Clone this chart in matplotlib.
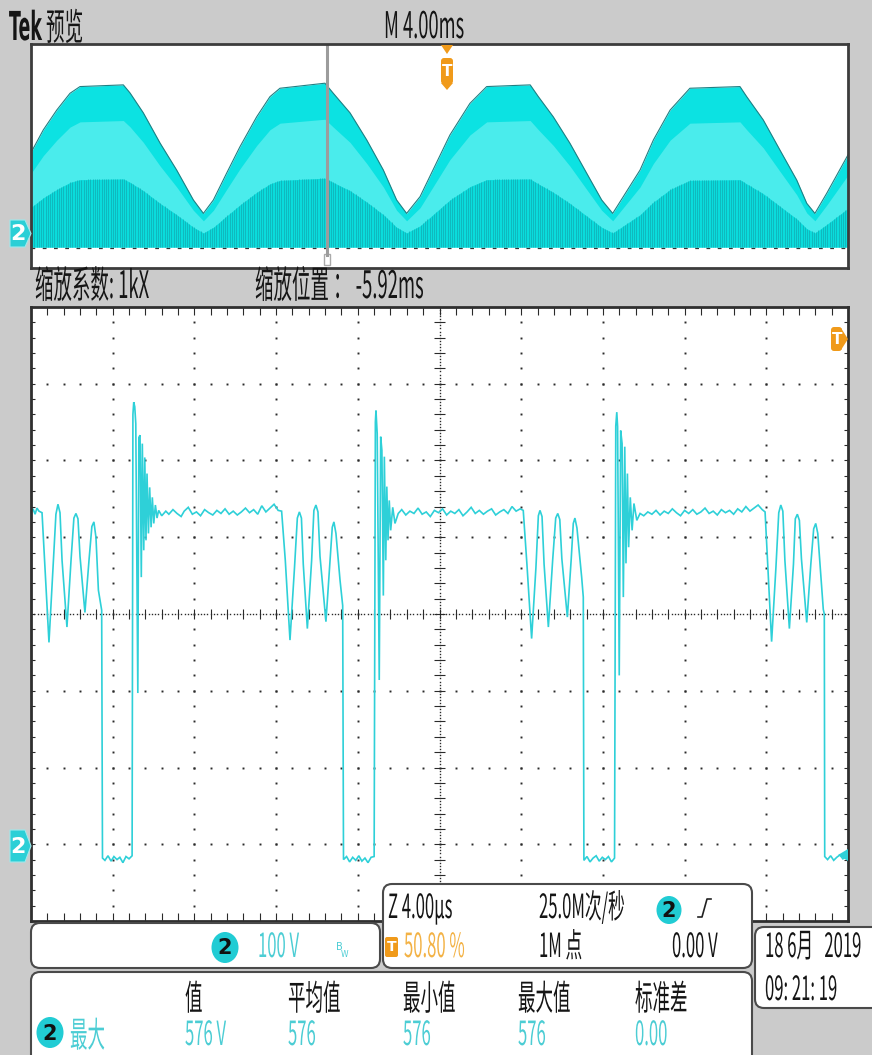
import numpy as np
import matplotlib
matplotlib.use("Agg")
import matplotlib.pyplot as plt
from matplotlib.patches import FancyBboxPatch, Polygon, Ellipse, Rectangle
from matplotlib.patheffects import AbstractPathEffect
from matplotlib.transforms import Affine2D

# ---------------- data ----------------
# overview (top panel): envelope of channel 2, time in ms, volts
env_t = [0.0, 0.60, 1.26, 1.91, 2.40, 4.52, 4.85, 5.50, 6.32, 7.13, 7.95, 8.44, 8.93, 9.58,
         10.23, 11.05, 11.70, 12.19, 14.39, 14.80, 15.62, 16.44, 17.25, 17.90, 18.39, 19.05,
         20.51, 21.49, 22.31, 24.44, 24.84, 25.57, 26.39, 27.21, 27.94, 28.48, 29.00, 29.82,
         30.47, 31.29, 32.26, 34.71, 35.04, 35.85, 36.67, 37.49, 37.98, 38.38, 38.96, 40.0]
env_v = [312, 393, 464, 524, 548, 554, 525, 454, 346, 250, 143, 95, 143, 239,
         333, 440, 512, 542, 560, 524, 454, 357, 250, 143, 95, 155,
         375, 488, 548, 554, 512, 440, 345, 238, 143, 95, 155, 250,
         357, 464, 542, 548, 512, 429, 321, 214, 131, 95, 167, 304]

# zoomed trace (main panel): time in microseconds, volts
osc0_t = [0.00, 0.10, 0.20, 0.29, 0.39, 0.54, 0.69, 0.88, 1.08, 1.22, 1.32, 1.42, 1.52, 1.76,
          1.96, 2.10, 2.20, 2.30, 2.40, 2.64, 2.84, 2.98, 3.08, 3.18, 3.30, 3.46]
osc0_v = [433, 437, 430, 438, 434, 432, 357, 263, 360, 430, 443, 432, 370, 283,
          370, 425, 431, 424, 375, 302, 370, 414, 420, 400, 331, 305]
low0_t = [3.50, 3.62, 3.77, 3.92, 4.06, 4.21, 4.35, 4.50, 4.65, 4.80, 4.95]
low0_v = [-18, -21, -15, -22, -16, -20, -17, -24, -16, -19, -15]
spk1_t = [4.99, 5.03, 5.08, 5.13, 5.23, 5.28, 5.34, 5.40, 5.45, 5.52, 5.57, 5.63, 5.68, 5.75,
          5.81, 5.88, 5.94, 6.01, 6.09, 6.17, 6.25]
spk1_v = [560, 576, 570, 548, 197, 530, 533, 348, 522, 383, 504, 396, 483, 405,
          465, 413, 452, 418, 442, 425, 435]
flat1_t = [6.40, 6.60, 6.75, 6.95, 7.15, 7.35, 7.50, 7.70, 7.90, 8.10, 8.30, 8.50, 8.70, 8.90,
           9.10, 9.30, 9.50, 9.70, 9.90, 10.10, 10.30, 10.50, 10.70, 10.90, 11.10, 11.30,
           11.50, 11.70, 11.90, 12.10, 12.27]
flat1_v = [428, 434, 430, 436, 431, 427, 434, 439, 430, 433, 428, 436, 432, 429,
           435, 431, 437, 430, 434, 429, 433, 438, 432, 436, 430, 441,
           433, 438, 443, 435, 434]
osc1_t = [12.45, 12.68, 12.90, 13.04, 13.14, 13.24, 13.33, 13.53, 13.74, 13.85, 13.95, 14.05,
          14.15, 14.44, 14.64, 14.75, 14.83, 14.93, 15.13, 15.26]
osc1_v = [370, 266, 360, 425, 433, 425, 365, 281, 370, 435, 442, 433,
          375, 290, 370, 413, 420, 405, 344, 311]
low1_t = [15.30, 15.45, 15.60, 15.75, 15.90, 16.05, 16.20, 16.35, 16.50, 16.65, 16.80]
low1_v = [-20, -16, -23, -17, -21, -15, -22, -18, -24, -17, -16]
spk2_t = [16.86, 16.89, 16.95, 17.05, 17.12, 17.18, 17.25, 17.30, 17.37, 17.42, 17.48, 17.54,
          17.61, 17.71, 17.82, 17.98]
spk2_v = [550, 565, 535, 214, 531, 513, 324, 505, 370, 466, 396, 448,
          409, 439, 418, 431]
flat2_t = [18.15, 18.35, 18.55, 18.75, 18.95, 19.15, 19.35, 19.55, 19.75, 19.95, 20.15, 20.35,
           20.55, 20.75, 20.95, 21.15, 21.35, 21.55, 21.75, 21.95, 22.15, 22.35, 22.55, 22.75,
           22.95, 23.15, 23.35, 23.55, 23.75, 23.95, 24.10]
flat2_v = [436, 429, 434, 431, 438, 430, 433, 427, 435, 432, 437, 429,
           434, 431, 436, 428, 433, 439, 431, 435, 430, 434, 437, 429,
           433, 436, 431, 440, 434, 437, 435]
osc2_t = [24.28, 24.51, 24.72, 24.84, 24.92, 25.02, 25.12, 25.33, 25.54, 25.69, 25.79, 25.89,
          25.99, 26.26, 26.45, 26.55, 26.63, 26.73, 26.96, 27.04]
osc2_v = [365, 268, 360, 428, 435, 427, 365, 283, 370, 425, 431, 423,
          372, 296, 372, 418, 425, 412, 348, 322]
low2_t = [27.07, 27.22, 27.37, 27.52, 27.67, 27.82, 27.97, 28.12, 28.27, 28.42, 28.57]
low2_v = [-21, -16, -23, -18, -15, -22, -17, -20, -16, -23, -18]
spk3_t = [28.63, 28.68, 28.72, 28.80, 28.87, 28.94, 29.00, 29.07, 29.13, 29.20, 29.26, 29.34,
          29.43, 29.52, 29.66, 29.82]
spk3_v = [545, 563, 544, 220, 539, 522, 322, 518, 366, 483, 387, 452,
          409, 444, 422, 431]
flat3_t = [30.00, 30.20, 30.40, 30.60, 30.80, 31.00, 31.20, 31.40, 31.60, 31.80, 32.00, 32.20,
           32.40, 32.60, 32.80, 33.00, 33.20, 33.40, 33.60, 33.80, 34.00, 34.20, 34.40, 34.60,
           34.80, 35.00, 35.20, 35.40, 35.60, 35.80, 35.94]
flat3_v = [428, 433, 430, 435, 429, 434, 431, 437, 432, 428, 435, 431,
           436, 430, 433, 438, 431, 434, 429, 436, 432, 435, 430, 437,
           433, 440, 434, 438, 442, 436, 433]
osc3_t = [36.08, 36.26, 36.47, 36.61, 36.71, 36.81, 36.91, 37.13, 37.33, 37.42, 37.52, 37.62,
          37.72, 37.98, 38.18, 38.32, 38.42, 38.52, 38.79, 38.84]
osc3_v = [360, 264, 360, 432, 442, 434, 370, 281, 365, 424, 430, 422,
          372, 289, 365, 411, 418, 405, 306, 300]
low3_t = [38.86, 39.00, 39.15, 39.30, 39.45, 39.60, 39.75, 39.90, 40.00]
low3_v = [-16, -20, -15, -21, -17, -14, -19, -16, -17]

# readouts
header_left = "预览"
header_time = "M 4.00ms"
zoom_factor = "缩放系数: 1kX"
zoom_pos = "缩放位置 ： -5.92ms"
ch_scale = "100 V"
tb_scale = "Z 4.00µs"
sample_rate = "25.0M次/秒"
trig_pos = "50.80 %"
rec_len = "1M 点"
trig_level = "0.00 V"
date_str = "18 6月   2019"
time_str = "09: 21: 19"
meas_headers = ["值", "平均值", "最小值", "最大值", "标准差"]
meas_values = ["576 V", "576", "576", "576", "0.00"]
meas_name = "最大"

trace_t = (osc0_t + low0_t + spk1_t + flat1_t + osc1_t + low1_t + spk2_t + flat2_t +
           osc2_t + low2_t + spk3_t + flat3_t + osc3_t + low3_t)
trace_v = (osc0_v + low0_v + spk1_v + flat1_v + osc1_v + low1_v + spk2_v + flat2_v +
           osc2_v + low2_v + spk3_v + flat3_v + osc3_v + low3_v)


# ---------------- styling helpers ----------------
class Tall(AbstractPathEffect):
    """Draw text glyphs stretched vertically about the baseline (tall, narrow scope font)."""
    def __init__(self, sy=1.8):
        super().__init__()
        self._sy = sy

    def draw_path(self, renderer, gc, tpath, affine, rgbFace=None):
        renderer.draw_path(gc, tpath, Affine2D().scale(1.0, self._sy) + affine, rgbFace)


CJK = ["Noto Sans CJK SC", "DejaVu Sans"]
W, H = 872, 1055
BG = "#cbcbcb"
CYAN = "#2ed0d8"
CYAN_TXT = "#4ccdd4"
ORANGE = "#f09a1a"
ORANGE_TXT = "#f3b245"
EDGE = "#4a4a4a"

fig = plt.figure(figsize=(W / 100, H / 100), dpi=100)
fig.patch.set_facecolor(BG)


def px_axes(x0, y0, x1, y1, z=1):
    return fig.add_axes([x0 / W, (H - y1) / H, (x1 - x0) / W, (y1 - y0) / H], zorder=z)


# ---------------- top overview panel ----------------
top = px_axes(31, 44, 848, 268, z=2)
top.set_xlim(0, 40)
top.set_ylim(-100, 700)
top.set_xticks([])
top.set_yticks([])
for s in top.spines.values():
    s.set_color("#3c3c3c")
    s.set_linewidth(2)
ev = np.array(env_v, dtype=float)
base = -25
top.fill_between(env_t, base, ev, color="#0ce2e2", lw=0)
mid = base + (ev - base) * 0.78
top.fill_between(env_t, base, mid, color="#4aecec", lw=0)
low = base + (ev - base) * 0.42
top.fill_between(env_t, base, low, color="#0adcdc", lw=0)
st = np.arange(0.05, 40, 0.11)
top.vlines(st, base, np.interp(st, env_t, low), color="#12abb2", lw=0.6, alpha=0.85)
top.plot(env_t, ev, color="#1f8084", lw=0.8)
top.plot([0, 40], [-28, -28], color="#333333", lw=0.9, dashes=(3, 6))
top.plot([14.49, 14.49], [700, -55], color="#9c9c9c", lw=2.2)
top.add_patch(Rectangle((14.33, -88), 0.32, 38, fill=False, ec="#aaaaaa", lw=1))

# ---------------- main zoom panel ----------------
main = px_axes(31, 307, 848, 921, z=2)
main.set_xlim(0, 40)
main.set_ylim(-100, 700)
main.set_xticks([])
main.set_yticks([])
for s in main.spines.values():
    s.set_color("#2f2f2f")
    s.set_linewidth(2)

dot = dict(ls="none", marker="s", ms=1.4, mew=0, color="#2a2a2a")
for k in range(1, 10):
    if k == 5:
        continue
    main.plot(np.full(41, 4.0 * k), np.arange(-100, 700.1, 20), **dot)
for m in range(0, 7):
    if m == 3:
        continue
    main.plot(np.arange(0, 40.01, 0.8), np.full(51, 100.0 * m), **dot)
# centre cross-hair
cx = np.arange(0, 40.01, 0.16)
main.plot(cx, np.full(cx.size, 300.0), ls="none", marker="s", ms=1.0, mew=0, color="#2a2a2a")
cy = np.arange(-100, 700.1, 4)
main.plot(np.full(cy.size, 20.0), cy, ls="none", marker="s", ms=1.0, mew=0, color="#2a2a2a")
tx = np.arange(0.8, 40, 0.8)
main.vlines(tx, 294, 306, color="#2a2a2a", lw=0.8)
ty = np.arange(-80, 700, 20)
main.hlines(ty, 19.75, 20.25, color="#2a2a2a", lw=0.8)
# edge ticks
main.vlines(tx, 690, 700, color="#2a2a2a", lw=0.8)
main.vlines(tx, -100, -90, color="#2a2a2a", lw=0.8)
main.hlines(ty, 0, 0.2, color="#2a2a2a", lw=0.8)
main.hlines(ty, 39.8, 40, color="#2a2a2a", lw=0.8)

main.plot(trace_t, trace_v, color=CYAN, lw=1.2, solid_joinstyle="miter")

# ---------------- overlay: texts, boxes, markers ----------------
ov = fig.add_axes([0, 0, 1, 1], zorder=5)
ov.set_xlim(0, W)
ov.set_ylim(H, 0)
ov.axis("off")
ov.patch.set_alpha(0)


def txt(x, y, s, size=12.6, color="#151515", sy=2.0, weight="normal", family=CJK):
    ov.text(x, y, s, fontsize=size, color=color, family=family, weight=weight,
            ha="left", va="baseline", path_effects=[Tall(sy)])


def rbox(x, y, w, h, r=9, fc="white", ec=EDGE, lw=1.5):
    ov.add_patch(FancyBboxPatch((x, y), w, h, boxstyle=f"round,pad=0,rounding_size={r}",
                                fc=fc, ec=ec, lw=lw))


def badge(cx, cy, w=27, h=31):
    ov.add_patch(Ellipse((cx, cy), w, h, fc="#21ccd4", ec="none"))
    ov.text(cx, cy + 1, "2", fontsize=15, weight="bold", color="#111111",
            ha="center", va="center", family="DejaVu Sans")


# header
txt(9, 40, "Tek", size=12.5, sy=2.3, weight="bold", family=["DejaVu Sans"])
txt(46, 40, header_left, size=13.4, sy=2.0)
txt(384, 38, header_time, size=13.2, sy=2.0)
txt(35, 298, zoom_factor, size=13.3, sy=2.05)
txt(255, 298, zoom_pos, size=13.3, sy=2.05)

# channel markers on the left
for (ya, yb, yt) in [(220, 247, 233.5), (830, 862, 846)]:
    ov.add_patch(Polygon([(10, ya), (25, ya), (31, yt), (25, yb), (10, yb)],
                         closed=True, fc="#2bcfd6", ec="#9ee9ec", lw=0.8))
    ov.text(17.5, yt + 1, "2", fontsize=16, weight="bold", color="white",
            ha="center", va="center", family="DejaVu Sans")

# trigger marker on top panel
ov.add_patch(Polygon([(441, 45), (453, 45), (447, 54)], closed=True, fc=ORANGE, ec="none"))
ov.add_patch(FancyBboxPatch((441, 58), 12, 26, boxstyle="round,pad=0,rounding_size=3",
                            fc=ORANGE, ec="none"))
ov.add_patch(Polygon([(441, 83), (453, 83), (447, 90)], closed=True, fc=ORANGE, ec="none"))
ov.text(447, 71, "T", fontsize=11, weight="bold", color="white", ha="center", va="center",
        family="DejaVu Sans")
# trigger level marker on main panel
ov.add_patch(FancyBboxPatch((831, 327), 11, 24, boxstyle="round,pad=0,rounding_size=3",
                            fc=ORANGE, ec="none"))
ov.add_patch(Polygon([(841, 328), (848, 339), (841, 350)], closed=True, fc=ORANGE, ec="none"))
ov.text(837, 339, "T", fontsize=11, weight="bold", color="white", ha="center", va="center",
        family="DejaVu Sans")
# record-end arrow
ov.add_patch(Polygon([(848, 849), (848, 861), (838, 855)], closed=True, fc=CYAN, ec="none"))

# channel box
rbox(31, 923, 349, 45)
badge(225, 947.5)
txt(258, 957, ch_scale, size=12, color=CYAN_TXT)
ov.text(336, 950, "B", fontsize=7, color=CYAN_TXT, family="DejaVu Sans")
ov.text(341, 957, "W", fontsize=5.5, color=CYAN_TXT, family="DejaVu Sans")

# timebase box
rbox(383, 884, 369, 84)
txt(388, 918, tb_scale, size=12)
txt(539, 918, sample_rate, size=12)
badge(669, 910, 25, 28)
ov.plot([698, 702, 707, 711], [917, 917, 899, 899], color="#222222", lw=1.2)
ov.add_patch(FancyBboxPatch((385, 937), 13, 20, boxstyle="round,pad=0,rounding_size=2",
                            fc=ORANGE, ec="none"))
ov.text(391.5, 947, "T", fontsize=10, weight="bold", color="white", ha="center",
        va="center", family="DejaVu Sans")
txt(404, 957, trig_pos, size=12, color=ORANGE_TXT)
txt(539, 957, rec_len, size=12)
txt(672, 957, trig_level, size=12)

# date box
rbox(755, 927, 135, 81)
txt(765, 957, date_str, size=12)
txt(765, 1000, time_str, size=12)

# measurement box
rbox(31, 972, 721, 100)
head_x = [185, 288, 403, 518, 635]
for hx, hs in zip(head_x, meas_headers):
    txt(hx, 1010, hs, size=12.6)
for hx, vs in zip(head_x, meas_values):
    txt(hx, 1045, vs, size=12, color=CYAN_TXT)
badge(50, 1032.5)
txt(70, 1047, meas_name, size=12.6, color=CYAN_TXT)

fig.savefig("out.png", dpi=100, facecolor=BG)
